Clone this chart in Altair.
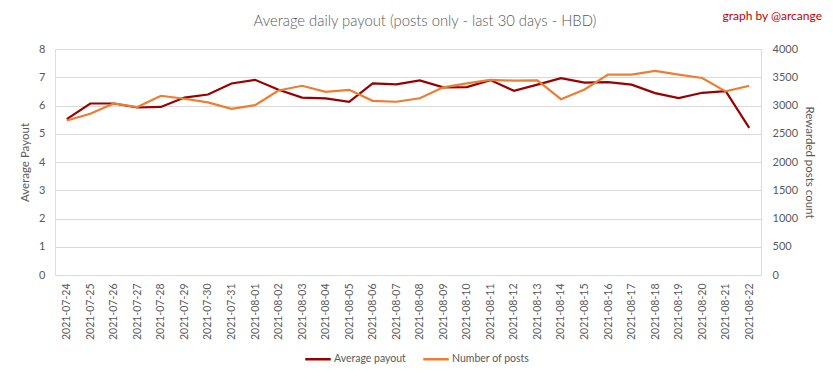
import altair as alt
import pandas as pd

dates = ["2021-07-24", "2021-07-25", "2021-07-26", "2021-07-27", "2021-07-28",
         "2021-07-29", "2021-07-30", "2021-07-31", "2021-08-01", "2021-08-02",
         "2021-08-03", "2021-08-04", "2021-08-05", "2021-08-06", "2021-08-07",
         "2021-08-08", "2021-08-09", "2021-08-10", "2021-08-11", "2021-08-12",
         "2021-08-13", "2021-08-14", "2021-08-15", "2021-08-16", "2021-08-17",
         "2021-08-18", "2021-08-19", "2021-08-20", "2021-08-21", "2021-08-22"]
avg_payout = [5.52, 6.07, 6.07, 5.93, 5.95, 6.28, 6.39, 6.78, 6.91, 6.56,
              6.28, 6.25, 6.13, 6.78, 6.75, 6.89, 6.64, 6.65, 6.90, 6.52,
              6.74, 6.97, 6.81, 6.83, 6.74, 6.44, 6.26, 6.45, 6.51, 5.21]
num_posts = [2734, 2853, 3036, 2972, 3172, 3119, 3054, 2942, 3007, 3266,
             3349, 3243, 3278, 3083, 3066, 3128, 3321, 3393, 3452, 3440,
             3445, 3112, 3285, 3546, 3546, 3612, 3546, 3487, 3250, 3350]
series_names = ["Average payout", "Number of posts"]
series_colors = ["#990000", "#ED7D31"]
left_ticks = [0, 1, 2, 3, 4, 5, 6, 7, 8]
right_ticks = [0, 500, 1000, 1500, 2000, 2500, 3000, 3500, 4000]
title_text = "Average daily payout (posts only - last 30 days - HBD)"
credit_text = "graph by @arcange"

df = pd.DataFrame({"date": dates, "avg": avg_payout, "posts": num_posts})

FONT = "Lato"
GRAY = "#595959"

x_enc = alt.X("date:N", sort=None,
              axis=alt.Axis(title=None, labelAngle=-90, labelPadding=8,
                            labelFontSize=10.5, ticks=False, domain=False,
                            grid=False, labelColor=GRAY))

color_scale = alt.Scale(domain=series_names, range=series_colors)
color_legend = alt.Legend(title=None, orient="none", direction="horizontal",
                          legendX=249, legendY=296, symbolType="stroke",
                          symbolSize=650, symbolStrokeWidth=2.5,
                          labelFontSize=10.5, labelColor=GRAY, labelFont=FONT,
                          labelOffset=2, columnPadding=12)

avg_line = alt.Chart(df).transform_calculate(
    series="'" + series_names[0] + "'"
).mark_line(strokeWidth=2.2).encode(
    x=x_enc,
    y=alt.Y("avg:Q", scale=alt.Scale(domain=[0, 8]),
            axis=alt.Axis(title="Average Payout", values=left_ticks, grid=True,
                          gridColor="#d9d9d9", domain=False, ticks=False,
                          labelPadding=10, titlePadding=8, labelFontSize=11,
                          titleFontSize=11.5, titleFontWeight="normal",
                          labelColor=GRAY, titleColor=GRAY)),
    color=alt.Color("series:N", scale=color_scale, legend=color_legend),
)

posts_line = alt.Chart(df).transform_calculate(
    series="'" + series_names[1] + "'"
).mark_line(strokeWidth=2.2).encode(
    x=x_enc,
    y=alt.Y("posts:Q", scale=alt.Scale(domain=[0, 4000]),
            axis=alt.Axis(title="Rewarded posts count", orient="right",
                          values=right_ticks, format="d", grid=False,
                          domain=False, ticks=False, labelPadding=11,
                          titlePadding=6, labelFontSize=11,
                          titleFontSize=11.5, titleFontWeight="normal",
                          labelColor=GRAY, titleColor=GRAY)),
    color=alt.Color("series:N", scale=color_scale, legend=color_legend),
)

title = alt.Chart(pd.DataFrame({"t": [title_text]})).mark_text(
    align="center", baseline="middle", font=FONT, fontSize=14.8,
    fontWeight=300, color=GRAY
).encode(text="t:N", x=alt.value(370), y=alt.value(-27))

credit = alt.Chart(pd.DataFrame({"t": [credit_text]})).mark_text(
    align="right", baseline="middle", font=FONT, fontSize=12, color="#C00000"
).encode(text="t:N", x=alt.value(767), y=alt.value(-33))

chart = alt.layer(avg_line, posts_line, title, credit).resolve_scale(
    y="independent"
).properties(
    width=706, height=226,
    autosize=alt.AutoSizeParams(type="none"),
    padding={"left": 47, "top": 41, "right": 62, "bottom": 100},
).configure_view(stroke=None).configure(font=FONT).configure_axis(
    labelFont=FONT, titleFont=FONT
)

chart.save("out.html", embed_options={"renderer": "svg", "actions": False})
